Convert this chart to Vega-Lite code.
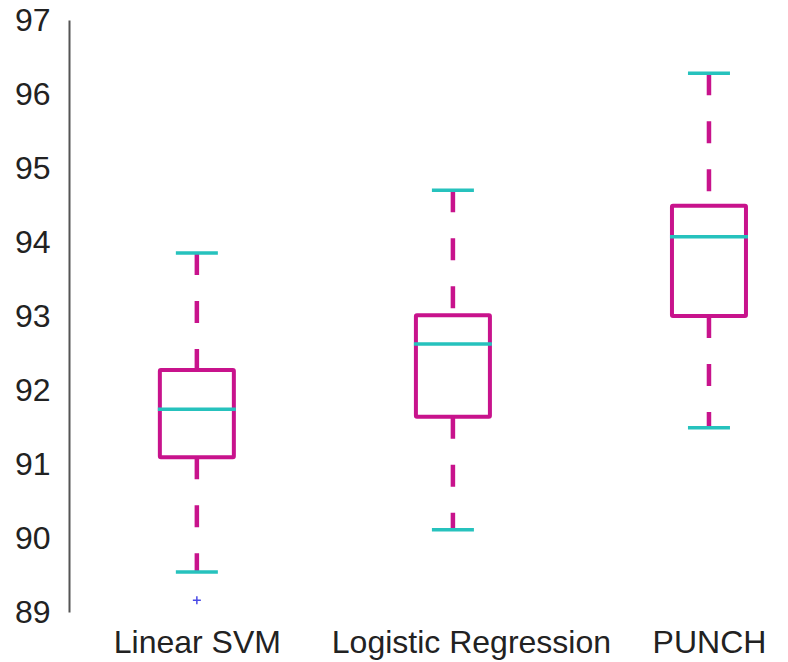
{
  "$schema": "https://vega.github.io/schema/vega-lite/v6.json",
  "width": 719,
  "height": 592,
  "padding": {"left": 69, "top": 20, "right": 0, "bottom": 50},
  "autosize": {"type": "none"},
  "background": "white",
  "config": {
    "view": {"stroke": null},
    "font": "Liberation Sans",
    "axis": {"labelFont": "Liberation Sans", "labelFontSize": 32, "labelColor": "#222222", "grid": false, "ticks": false, "title": null, "labelLimit": 500, "labelOverlap": false}
  },
  "datasets": {
    "stats": [
      {"model": "Linear SVM", "lower": 89.54, "q1": 91.09, "median": 91.74, "q3": 92.27, "upper": 93.85},
      {"model": "Logistic Regression", "lower": 90.11, "q1": 91.64, "median": 92.62, "q3": 93.01, "upper": 94.70},
      {"model": "PUNCH", "lower": 91.49, "q1": 93.0, "median": 94.07, "q3": 94.49, "upper": 96.28}
    ],
    "outliers": [
      {"model": "Linear SVM", "value": 89.16}
    ]
  },
  "encoding": {
    "x": {
      "field": "model",
      "type": "nominal",
      "sort": ["Linear SVM", "Logistic Regression", "PUNCH"],
      "scale": {"type": "point", "padding": 0.404, "align": 0.618},
      "axis": {
        "domain": false,
        "labelAngle": 0,
        "labelPadding": 15,
        "labelOffset": {"expr": "datum.value == 'Logistic Regression' ? 18 : 0"}
      }
    }
  },
  "layer": [
    {
      "data": {"name": "stats"},
      "mark": {"type": "rule", "stroke": "#c8138c", "strokeWidth": 4.5, "strokeDash": [22, 26]},
      "encoding": {
        "y": {"field": "upper", "type": "quantitative", "scale": {"domain": [89, 97], "nice": false, "zero": false},
          "axis": {"values": [89, 90, 91, 92, 93, 94, 95, 96, 97], "format": "d", "domain": true, "domainColor": "#555555", "domainWidth": 2, "labelPadding": 19}},
        "y2": {"field": "q3"}
      }
    },
    {
      "data": {"name": "stats"},
      "mark": {"type": "rule", "stroke": "#c8138c", "strokeWidth": 4.5, "strokeDash": [22, 26]},
      "encoding": {
        "y": {"field": "q1", "type": "quantitative"},
        "y2": {"field": "lower"}
      }
    },
    {
      "data": {"name": "stats"},
      "mark": {"type": "bar", "size": 74, "fill": "white", "stroke": "#c8138c", "strokeWidth": 4, "cornerRadius": 1},
      "encoding": {
        "y": {"field": "q1", "type": "quantitative"},
        "y2": {"field": "q3"}
      }
    },
    {
      "data": {"name": "stats"},
      "mark": {"type": "tick", "size": 78, "thickness": 3.5, "color": "#26c2bd", "opacity": 1},
      "encoding": {
        "y": {"field": "median", "type": "quantitative"}
      }
    },
    {
      "data": {"name": "stats"},
      "mark": {"type": "tick", "size": 42, "thickness": 3.5, "color": "#26c2bd", "opacity": 1},
      "encoding": {
        "y": {"field": "upper", "type": "quantitative"}
      }
    },
    {
      "data": {"name": "stats"},
      "mark": {"type": "tick", "size": 42, "thickness": 3.5, "color": "#26c2bd", "opacity": 1},
      "encoding": {
        "y": {"field": "lower", "type": "quantitative"}
      }
    },
    {
      "data": {"name": "outliers"},
      "mark": {"type": "point", "shape": "M-1,0H1M0,-1V1", "size": 64, "filled": false, "stroke": "#4a4ae6", "strokeWidth": 1.5, "opacity": 1},
      "encoding": {
        "y": {"field": "value", "type": "quantitative"}
      }
    }
  ]
}
